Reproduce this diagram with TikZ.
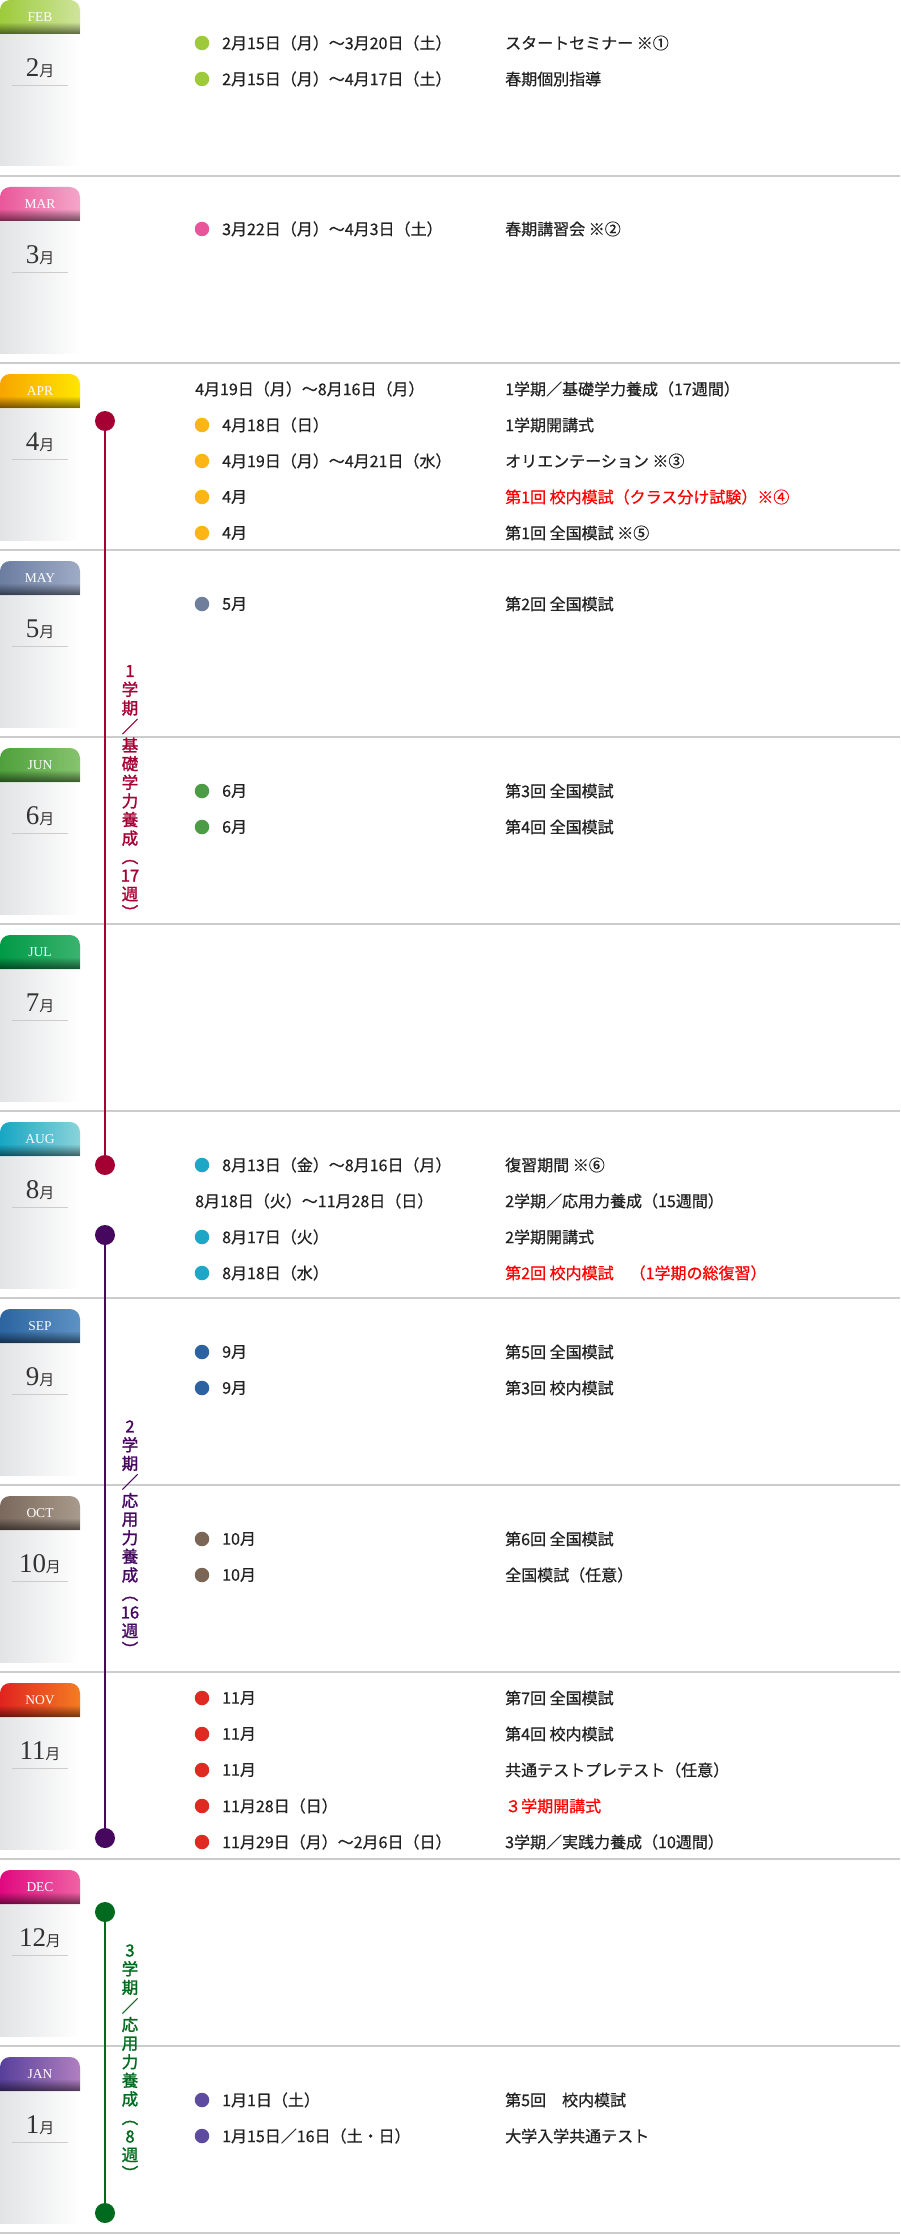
\documentclass[tikz,border=0pt]{standalone}
\usepackage{fontspec}
\setmainfont{Liberation Serif}
\newfontfamily\jp{Noto Sans CJK JP}
\newfontfamily\jpm{Noto Sans CJK JP}[FakeBold=0.6]
\newfontfamily\jpb{Noto Sans CJK JP}[FakeBold=1.6]
\usetikzlibrary{fadings}
\tikzfading[name=tabfade, top color=transparent!100, bottom color=transparent!45]
\definecolor{crim}{HTML}{A50034}
\definecolor{purp}{HTML}{46085F}
\definecolor{grn}{HTML}{006A1E}
\definecolor{sepc}{HTML}{CCCCCC}
\definecolor{txt}{HTML}{222222}
\definecolor{redt}{HTML}{FF0000}
\definecolor{cFeb}{HTML}{9DC93B}
\definecolor{cMar}{HTML}{E8559A}
\definecolor{cApr}{HTML}{FBB517}
\definecolor{cMay}{HTML}{6F7E9B}
\definecolor{cJun}{HTML}{4C9C45}
\definecolor{cAug}{HTML}{1DA6C5}
\definecolor{cSep}{HTML}{2C62A0}
\definecolor{cOct}{HTML}{7B6656}
\definecolor{cNov}{HTML}{DF2A22}
\definecolor{cJan}{HTML}{5E4A9F}
\definecolor{dFEB}{HTML}{9CCB3B}\definecolor{lFEB}{HTML}{CFE49B}
\definecolor{dMAR}{HTML}{E9579A}\definecolor{lMAR}{HTML}{F4A6C9}
\definecolor{dAPR}{HTML}{F7A500}\definecolor{lAPR}{HTML}{FFE600}
\definecolor{dMAY}{HTML}{6B7DA0}\definecolor{lMAY}{HTML}{9EABC6}
\definecolor{dJUN}{HTML}{4FA03C}\definecolor{lJUN}{HTML}{86C46E}
\definecolor{dJUL}{HTML}{009A47}\definecolor{lJUL}{HTML}{3BB36E}
\definecolor{dAUG}{HTML}{17A6C4}\definecolor{lAUG}{HTML}{8BD3DA}
\definecolor{dSEP}{HTML}{2B64A0}\definecolor{lSEP}{HTML}{5D92C4}
\definecolor{dOCT}{HTML}{7A695C}\definecolor{lOCT}{HTML}{A89A8C}
\definecolor{dNOV}{HTML}{E0231F}\definecolor{lNOV}{HTML}{F47C22}
\definecolor{dDEC}{HTML}{E0087F}\definecolor{lDEC}{HTML}{F062A4}
\definecolor{dJAN}{HTML}{57409A}\definecolor{lJAN}{HTML}{B07FC0}
\definecolor{boxg}{HTML}{E2E3E5}
\newcommand\evrow[6]{%
  \node[bul, fill=#3] (b#1) at (202,#2) {};
  \node[evt] (d#1) at (222,#2) {#4};
  \node[evt, text=#6] (e#1) at (505,#2) {#5};}
\newcommand\evplain[4]{%
  \node[evt] (d#1) at (195,#2) {#3};
  \node[evt] (e#1) at (505,#2) {#4};}
\newcommand\monthblk[3]{% T, abbr, number
  \shade[left color=boxg, right color=white] (0,{#1+45}) rectangle (80,{#1+177});
  \shade[left color=d#2, right color=l#2] (0,{#1+45}) [rounded corners=10pt] -- (0,{#1+11}) -- (80,{#1+11}) [sharp corners] -- (80,{#1+45}) -- cycle;
  \fill[black, path fading=tabfade] (0,{#1+33}) rectangle (80,{#1+45});
  \node[tabtxt] (tab#2) at (40,{#1+28}) {#2};
  \node[mnum] (num#2) at (40,{#1+79}) {\fontsize{27}{27}\selectfont #3\jp\fontsize{15}{15}\selectfont 月};
  \draw[sepc, line width=0.8pt] (12,{#1+96}) -- (68,{#1+96});
  \draw[sepc, line width=1.5pt] (0,{#1+187}) -- (900,{#1+187});}
\begin{document}
\begin{tikzpicture}[x=1pt, y=-1pt,
  bul/.style={circle, inner sep=0pt, minimum size=14.5pt, draw=none},
  evt/.style={anchor=west, inner sep=0pt, text=txt, font=\jpm\fontsize{16}{18}\selectfont},
  tabtxt/.style={text=white, font=\fontsize{13.5}{13.5}\selectfont, inner sep=0pt},
  mnum/.style={text=black!80, inner sep=0pt},
  dot/.style={circle, inner sep=0pt, minimum size=20pt},
  vtxt/.style={align=center, inner sep=0pt, font=\jpb\fontsize{16.5}{18.6}\selectfont}]
\useasboundingbox (0,0) rectangle (900,2234);
\fill[white] (0,0) rectangle (900,2234);
% month blocks
\monthblk{-11}{FEB}{2}
\monthblk{176}{MAR}{3}
\monthblk{363}{APR}{4}
\monthblk{550}{MAY}{5}
\monthblk{737}{JUN}{6}
\monthblk{924}{JUL}{7}
\monthblk{1111}{AUG}{8}
\monthblk{1298}{SEP}{9}
\monthblk{1485}{OCT}{10}
\monthblk{1672}{NOV}{11}
\monthblk{1859}{DEC}{12}
\monthblk{2046}{JAN}{1}
% timelines
\node[dot, fill=crim] (p1s) at (105,421) {};
\node[dot, fill=crim] (p1e) at (105,1165) {};
\draw[crim, line width=2.6pt] (p1s.center) -- (p1e.center);
\node[dot, fill=purp] (p2s) at (105,1235) {};
\node[dot, fill=purp] (p2e) at (105,1838) {};
\draw[purp, line width=2.6pt] (p2s.center) -- (p2e.center);
\node[dot, fill=grn] (p3s) at (105,1912) {};
\node[dot, fill=grn] (p3e) at (105,2213) {};
\draw[grn, line width=2.6pt] (p3s.center) -- (p3e.center);
\node[vtxt, text=crim] (p1t) at (130,792) {1\\学\\期\\／\\基\\礎\\学\\力\\養\\成\\︵\\17\\週\\︶};
\node[vtxt, text=purp] (p2t) at (130,1538) {2\\学\\期\\／\\応\\用\\力\\養\\成\\︵\\16\\週\\︶};
\node[vtxt, text=grn] (p3t) at (130,2062) {3\\学\\期\\／\\応\\用\\力\\養\\成\\︵\\8\\週\\︶};
% events
\evrow{f1}{43}{cFeb}{2月15日（月）〜3月20日（土）}{スタートセミナー ※①}{txt}
\evrow{f2}{79}{cFeb}{2月15日（月）〜4月17日（土）}{春期個別指導}{txt}
\evrow{m1}{229}{cMar}{3月22日（月）〜4月3日（土）}{春期講習会 ※②}{txt}
\evplain{a0}{389}{4月19日（月）〜8月16日（月）}{1学期／基礎学力養成（17週間）}
\evrow{a1}{425}{cApr}{4月18日（日）}{1学期開講式}{txt}
\evrow{a2}{461}{cApr}{4月19日（月）〜4月21日（水）}{オリエンテーション ※③}{txt}
\evrow{a3}{497}{cApr}{4月}{第1回 校内模試（クラス分け試験）※④}{redt}
\evrow{a4}{533}{cApr}{4月}{第1回 全国模試 ※⑤}{txt}
\evrow{y1}{604}{cMay}{5月}{第2回 全国模試}{txt}
\evrow{j1}{791}{cJun}{6月}{第3回 全国模試}{txt}
\evrow{j2}{827}{cJun}{6月}{第4回 全国模試}{txt}
\evrow{g1}{1165}{cAug}{8月13日（金）〜8月16日（月）}{復習期間 ※⑥}{txt}
\evplain{g0}{1201}{8月18日（火）〜11月28日（日）}{2学期／応用力養成（15週間）}
\evrow{g2}{1237}{cAug}{8月17日（火）}{2学期開講式}{txt}
\evrow{g3}{1273}{cAug}{8月18日（水）}{第2回 校内模試　（1学期の総復習）}{redt}
\evrow{s1}{1352}{cSep}{9月}{第5回 全国模試}{txt}
\evrow{s2}{1388}{cSep}{9月}{第3回 校内模試}{txt}
\evrow{o1}{1539}{cOct}{10月}{第6回 全国模試}{txt}
\evrow{o2}{1575}{cOct}{10月}{全国模試（任意）}{txt}
\evrow{n1}{1698}{cNov}{11月}{第7回 全国模試}{txt}
\evrow{n2}{1734}{cNov}{11月}{第4回 校内模試}{txt}
\evrow{n3}{1770}{cNov}{11月}{共通テストプレテスト（任意）}{txt}
\evrow{n4}{1806}{cNov}{11月28日（日）}{３学期開講式}{redt}
\evrow{n5}{1842}{cNov}{11月29日（月）〜2月6日（日）}{3学期／実践力養成（10週間）}{txt}
\evrow{k1}{2100}{cJan}{1月1日（土）}{第5回　校内模試}{txt}
\evrow{k2}{2136}{cJan}{1月15日／16日（土・日）}{大学入学共通テスト}{txt}
\end{tikzpicture}
\end{document}
